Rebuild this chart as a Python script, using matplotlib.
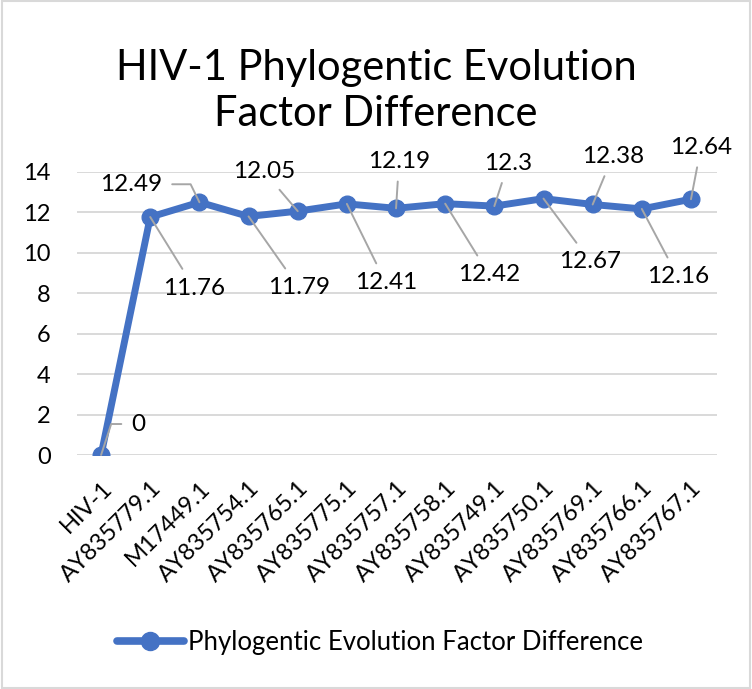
import matplotlib.pyplot as plt
from matplotlib.lines import Line2D

plt.rcParams['font.family'] = ['Lato', 'DejaVu Sans']

# data
samples = ["HIV-1", "AY835779.1", "M17449.1", "AY835754.1", "AY835765.1",
           "AY835775.1", "AY835757.1", "AY835758.1", "AY835749.1",
           "AY835750.1", "AY835769.1", "AY835766.1", "AY835767.1"]
factor_diff = [0, 11.76, 12.49, 11.79, 12.05, 12.41, 12.19,
               12.42, 12.3, 12.67, 12.38, 12.16, 12.64]
value_labels = ["0", "11.76", "12.49", "11.79", "12.05", "12.41", "12.19",
                "12.42", "12.3", "12.67", "12.38", "12.16", "12.64"]

# where each data label sits relative to its point (pixels)
label_offsets = [(37, 31), (44, -71), (-68, 18), (50, -71), (-34, 40),
                 (39, -79), (3, 47), (44, -71), (14, 43), (47, -63),
                 (20, 48), (36, -68), (10, 52)]
# leader line shape (two of them have an elbow)
leader_styles = {0: "angle,angleA=0,angleB=72,rad=0",
                 2: "angle,angleA=0,angleB=116,rad=0"}

blue = "#4472C4"
fig = plt.figure(figsize=(7.52, 6.89), dpi=100)
ax = fig.add_axes([0.1024, 0.3396, 0.8511, 0.4112])

x = list(range(len(samples)))
ax.plot(x, factor_diff, color=blue, lw=5, marker="o", ms=12,
        solid_capstyle="round", solid_joinstyle="round", zorder=3)

for i, (xi, yi, txt, (dx, dy)) in enumerate(zip(x, factor_diff, value_labels,
                                                 label_offsets)):
    ax.annotate(txt, (xi, yi), xytext=(dx, dy), textcoords="offset pixels",
                ha="center", va="center", fontsize=17.5, color="#000000",
                arrowprops=dict(arrowstyle="-", color="#A6A6A6", lw=1.4,
                                shrinkA=5, shrinkB=0,
                                connectionstyle=leader_styles.get(i, "arc3")),
                zorder=4)

ax.set_xlim(-0.49, 12.53)
ax.set_ylim(0, 14)
ax.set_yticks(range(0, 15, 2))
ax.set_xticks(x)
ax.set_xticklabels(samples, rotation=45, ha="right", rotation_mode="anchor")
ax.tick_params(axis="both", length=0)
ax.tick_params(axis="x", labelsize=17, pad=16)
ax.tick_params(axis="y", labelsize=17, pad=19)
ax.yaxis.grid(True, color="#D9D9D9", lw=1.4)
ax.set_axisbelow(True)
for s in ax.spines.values():
    s.set_visible(False)

fig.text(0.5, 0.868, "HIV-1 Phylogentic Evolution\nFactor Difference",
         ha="center", va="center", fontsize=30, linespacing=1.27)

handle = Line2D([], [], color=blue, lw=5.5, marker="o", ms=13,
                solid_capstyle="round")
fig.legend([handle], ["Phylogentic Evolution Factor Difference"],
           loc="center", bbox_to_anchor=(0.505, 0.068), frameon=False,
           fontsize=18.5, handlelength=2.6, handletextpad=0.15)

fig.patches.append(plt.Rectangle((0.002, 0.002), 0.996, 0.996,
                                 transform=fig.transFigure, fill=False,
                                 edgecolor="#D9D9D9", lw=1.5))

fig.savefig("out.png", dpi=100, facecolor="white")
